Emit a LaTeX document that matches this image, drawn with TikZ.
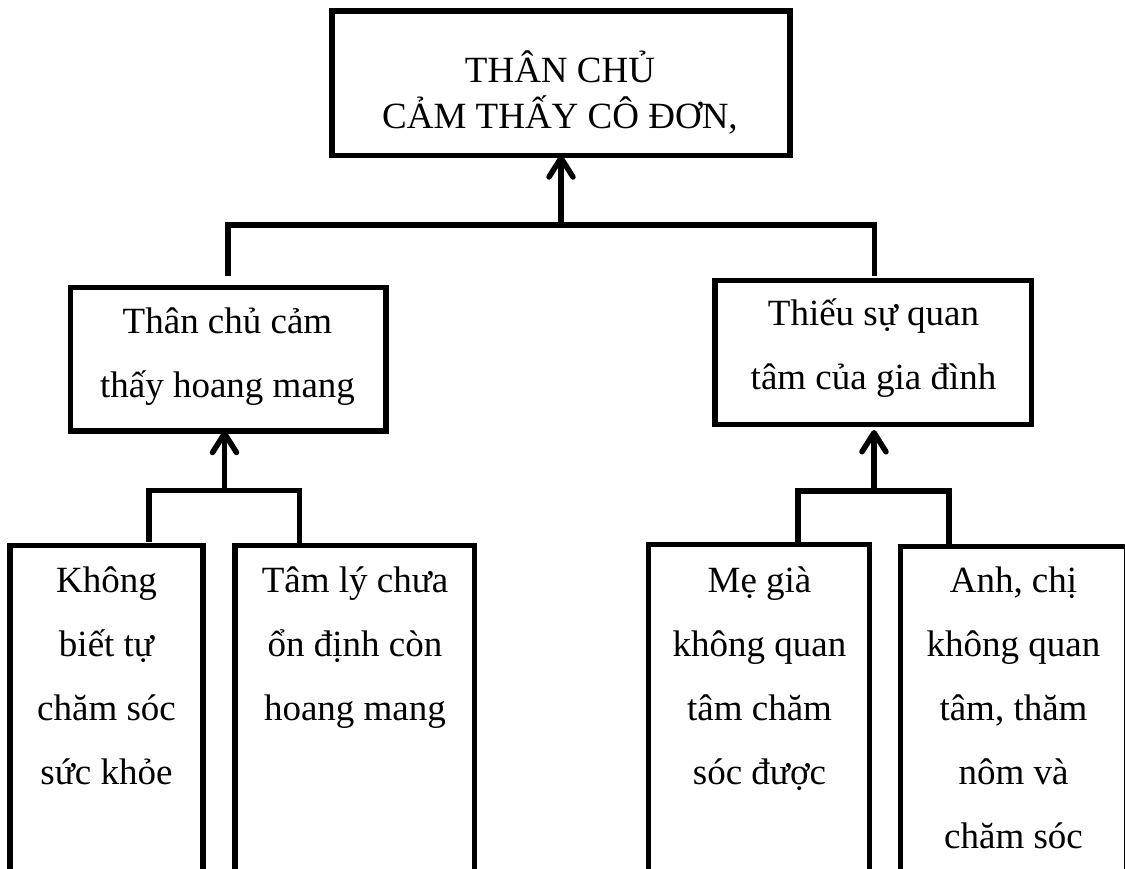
\documentclass[tikz,border=0pt]{standalone}
\usepackage{fontspec}
\setmainfont{Liberation Serif}
\usetikzlibrary{arrows.meta}

\begin{document}
\begin{tikzpicture}[x=1pt, y=-1pt,
    wire/.style={line width=5.5pt},
    upwire/.style={wire, -{Straight Barb[length=19pt, width=24pt, round]}},
    frame/.style={draw, line width=5.5pt, inner sep=0pt, outer sep=0pt},
    leaf/.style={frame, anchor=north, minimum height=360pt, minimum width=#1},
    say/.style={anchor=base, inner sep=0pt, align=center, font=\fontsize{37}{64}\selectfont}]
    \useasboundingbox (0,0) rectangle (1125,868);
    \clip (0,0) rectangle (1125,868);
    % root box (text nodes sit on the baseline of their last line)
    \node [frame, minimum width=458pt, minimum height=144.5pt] (root) at (561,83) {};
    \node [say, font=\fontsize{37}{46}\selectfont] (rootT) at (560,128) {THÂN CHỦ\\CẢM THẤY CÔ ĐƠN,};
    % middle boxes
    \node [frame, minimum width=315.5pt, minimum height=143.5pt] (midL) at (228,359) {};
    \node [say] (midLT) at (227.5,397) {Thân chủ cảm\\thấy hoang mang};
    \node [frame, minimum width=316.5pt, minimum height=144pt] (midR) at (873,352.5) {};
    \node [say] (midRT) at (873.5,389) {Thiếu sự quan\\tâm của gia đình};
    % bottom boxes, running off the lower edge
    \node [leaf=193pt] (care) at (106.5,545.5) {};
    \node [say] (careT) at (106.5,784) {Không\\biết tự\\chăm sóc\\sức khỏe};
    \node [leaf=239.5pt] (mind) at (354.75,545.5) {};
    \node [say] (mindT) at (355,720) {Tâm lý chưa\\ổn định còn\\hoang mang};
    \node [leaf=221pt] (mom) at (759,544.5) {};
    \node [say] (momT) at (759.5,784) {Mẹ già\\không quan\\tâm chăm\\sóc được};
    \node [leaf=226pt] (sibs) at (1013.5,546.5) {};
    \node [say] (sibsT) at (1013.5,848) {Anh, chị\\không quan\\tâm, thăm\\nôm và\\chăm sóc};
    % upper fork
    \coordinate (hubT) at (561,225);
    \coordinate (dropA) at (228,276);
    \coordinate (dropB) at (874.5,276);
    \draw [wire] (dropA) |- (hubT) -| (dropB);
    \draw [upwire] (hubT) -- (root);
    % left fork
    \coordinate (hubL) at (224.5,490.5);
    \coordinate (dropC) at (149,542);
    \coordinate (dropD) at (299.5,545.5);
    \draw [wire] (dropC) |- (hubL) -| (dropD);
    \draw [upwire] (hubL) -- (hubL |- midL.south);
    % right fork
    \coordinate (hubR) at (874,491);
    \coordinate (dropE) at (798,544);
    \coordinate (dropF) at (949,544);
    \draw [wire] (dropE) |- (hubR) -| (dropF);
    \draw [upwire] (hubR) -- ++(0,-61);
\end{tikzpicture}
\end{document}
